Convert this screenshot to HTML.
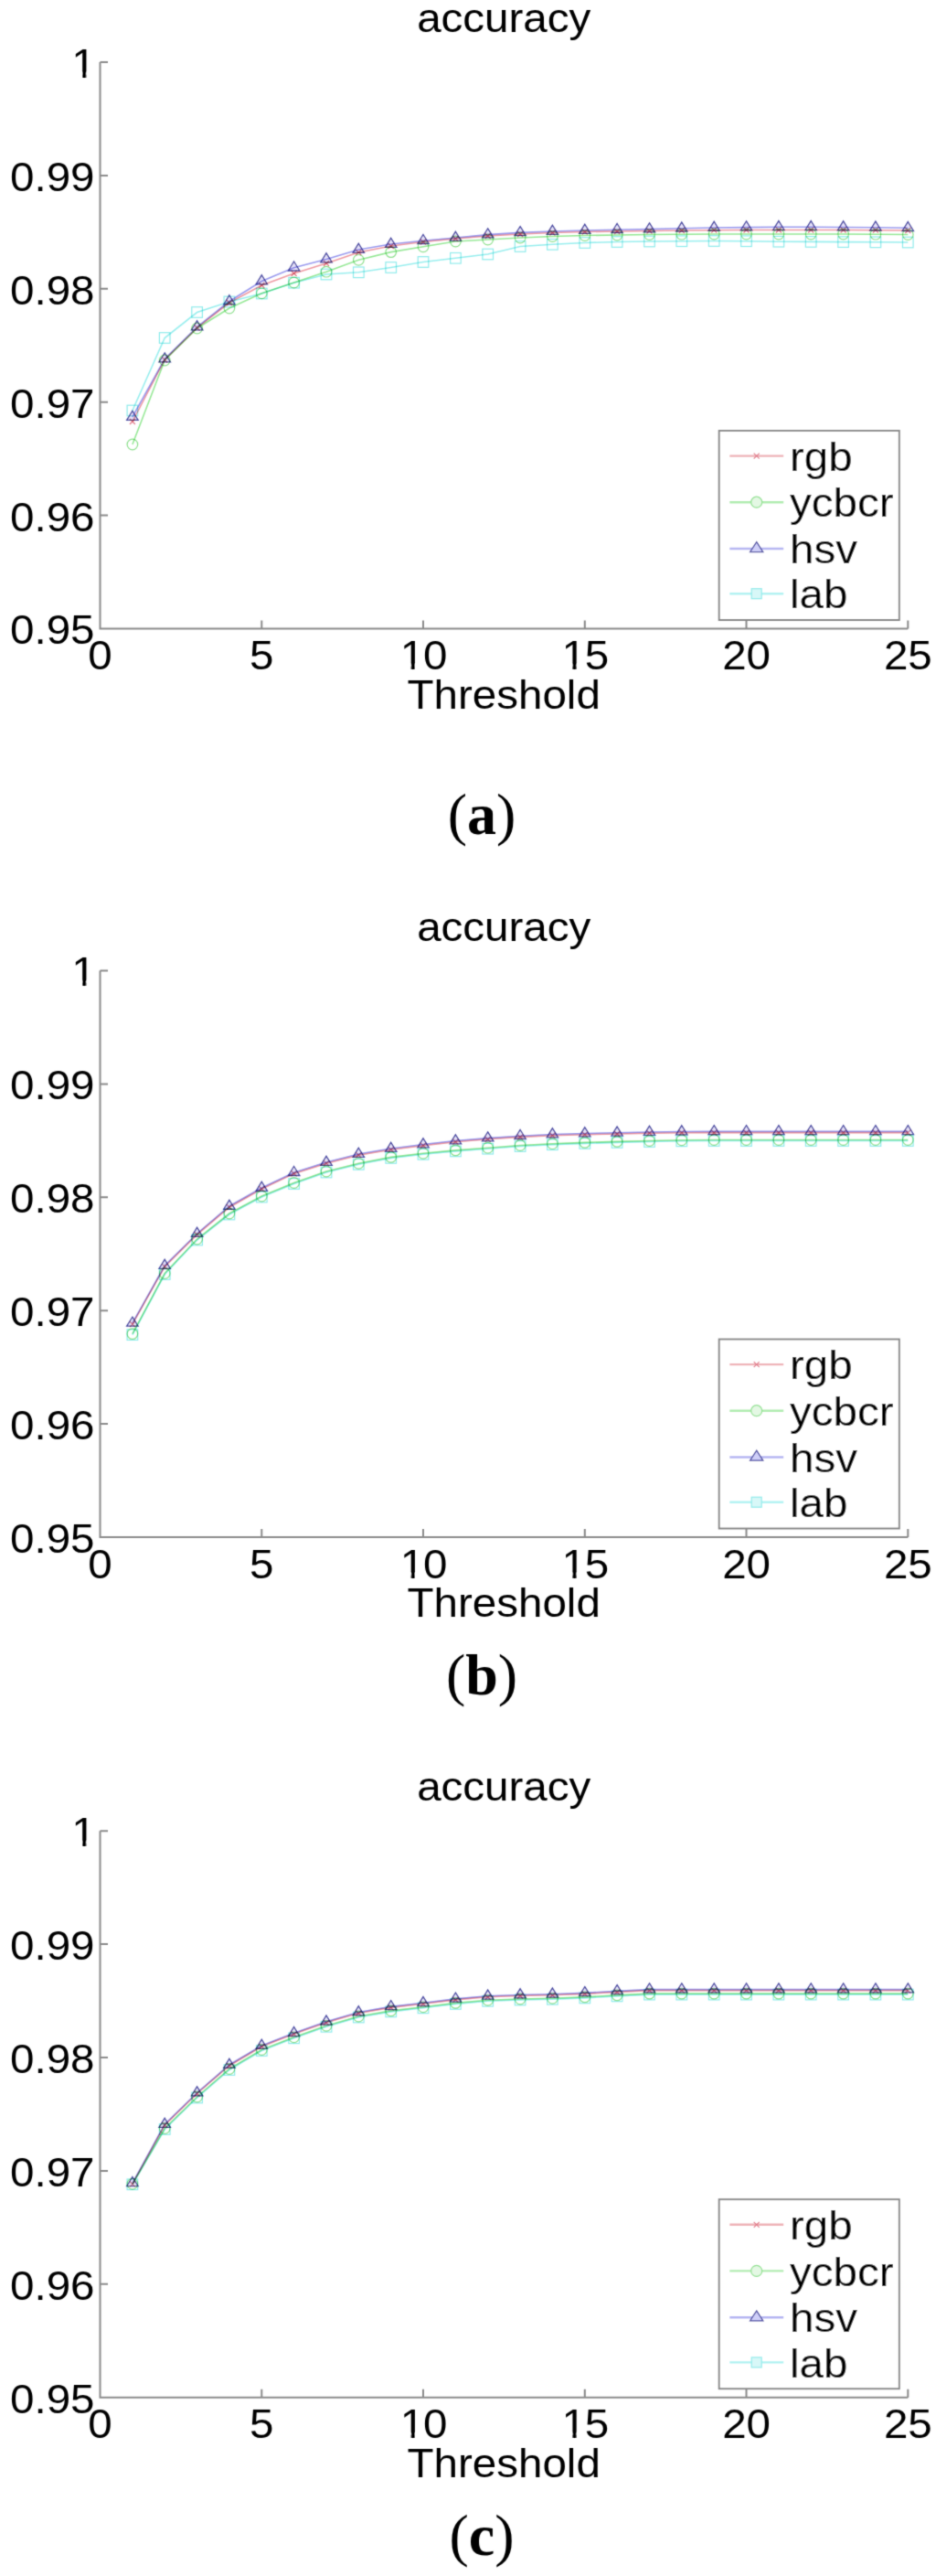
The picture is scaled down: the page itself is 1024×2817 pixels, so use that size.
<!DOCTYPE html>
<html><head><meta charset="utf-8"><title>accuracy</title>
<style>html,body{margin:0;padding:0;background:#fff;}body{width:1024px;height:2817px;overflow:hidden;}svg{display:block;}</style>
</head><body>
<svg width="1024" height="2817" viewBox="0 0 1024 2817">
<defs><filter id="soft" x="0" y="0" width="1024" height="2817" filterUnits="userSpaceOnUse"><feConvolveMatrix order="3" kernelMatrix="0.0367 0.191 0.0367 0.191 1 0.191 0.0367 0.191 0.0367" divisor="1.911" edgeMode="none"/></filter></defs>
<rect width="1024" height="2817" fill="#fff"/>
<g filter="url(#soft)">
<text transform="translate(551.20 35.10) scale(1.08 1)" text-anchor="middle" font-family="'Liberation Sans', Arial, Helvetica, sans-serif" font-size="44" font-weight="normal" fill="#000">accuracy</text>
<path d="M109.5 68.0V687.5H993.3" stroke="#8a8a8a" stroke-width="2" fill="none"/>
<g transform="translate(103.50 84.90) scale(1.08 1)"><text x="-24.47" y="0" font-family="'Liberation Sans', Arial, Helvetica, sans-serif" font-size="44" fill="#000"><tspan dx="1.02">1</tspan></text><rect x="-20.87" y="-5.59" width="8.42" height="6.45" fill="#fff"/><rect x="-8.43" y="-5.59" width="7.97" height="6.45" fill="#fff"/></g>
<g transform="translate(103.50 208.80) scale(1.08 1)"><text x="-85.64" y="0" font-family="'Liberation Sans', Arial, Helvetica, sans-serif" font-size="44" fill="#000">0.99</text></g>
<g transform="translate(103.50 332.70) scale(1.08 1)"><text x="-85.64" y="0" font-family="'Liberation Sans', Arial, Helvetica, sans-serif" font-size="44" fill="#000">0.98</text></g>
<g transform="translate(103.50 456.60) scale(1.08 1)"><text x="-85.64" y="0" font-family="'Liberation Sans', Arial, Helvetica, sans-serif" font-size="44" fill="#000">0.97</text></g>
<g transform="translate(103.50 580.50) scale(1.08 1)"><text x="-85.64" y="0" font-family="'Liberation Sans', Arial, Helvetica, sans-serif" font-size="44" fill="#000">0.96</text></g>
<g transform="translate(103.50 704.40) scale(1.08 1)"><text x="-85.64" y="0" font-family="'Liberation Sans', Arial, Helvetica, sans-serif" font-size="44" fill="#000">0.95</text></g>
<g transform="translate(109.50 732.10) scale(1.08 1)"><text x="-12.24" y="0" font-family="'Liberation Sans', Arial, Helvetica, sans-serif" font-size="44" fill="#000">0</text></g>
<g transform="translate(286.26 732.10) scale(1.08 1)"><text x="-12.24" y="0" font-family="'Liberation Sans', Arial, Helvetica, sans-serif" font-size="44" fill="#000">5</text></g>
<g transform="translate(463.02 732.10) scale(1.08 1)"><text x="-24.47" y="0" font-family="'Liberation Sans', Arial, Helvetica, sans-serif" font-size="44" fill="#000"><tspan dx="1.02">1</tspan><tspan dx="-1.02">0</tspan></text><rect x="-20.87" y="-5.59" width="8.42" height="6.45" fill="#fff"/><rect x="-8.43" y="-5.59" width="7.97" height="6.45" fill="#fff"/></g>
<g transform="translate(639.78 732.10) scale(1.08 1)"><text x="-24.47" y="0" font-family="'Liberation Sans', Arial, Helvetica, sans-serif" font-size="44" fill="#000"><tspan dx="1.02">1</tspan><tspan dx="-1.02">5</tspan></text><rect x="-20.87" y="-5.59" width="8.42" height="6.45" fill="#fff"/><rect x="-8.43" y="-5.59" width="7.97" height="6.45" fill="#fff"/></g>
<g transform="translate(816.54 732.10) scale(1.08 1)"><text x="-24.47" y="0" font-family="'Liberation Sans', Arial, Helvetica, sans-serif" font-size="44" fill="#000">20</text></g>
<g transform="translate(993.30 732.10) scale(1.08 1)"><text x="-24.47" y="0" font-family="'Liberation Sans', Arial, Helvetica, sans-serif" font-size="44" fill="#000">25</text></g>
<path d="M109.5 68.0h8.5M109.5 191.9h8.5M109.5 315.8h8.5M109.5 439.7h8.5M109.5 563.6h8.5M286.3 687.5v-9M463.0 687.5v-9M639.8 687.5v-9M816.5 687.5v-9M993.3 687.5v-9" stroke="#8a8a8a" stroke-width="2" fill="none"/>
<text transform="translate(551.20 774.90) scale(1.08 1)" text-anchor="middle" font-family="'Liberation Sans', Arial, Helvetica, sans-serif" font-size="44" font-weight="normal" fill="#000">Threshold</text>
<polyline points="144.9,461.0 180.2,393.5 215.6,358.5 250.9,331.0 286.3,312.0 321.6,299.0 357.0,288.0 392.3,276.0 427.7,269.0 463.0,264.5 498.4,261.0 533.7,258.0 569.1,256.0 604.4,254.5 639.8,253.5 675.1,253.0 710.5,252.5 745.8,252.0 781.2,251.7 816.5,251.5 851.9,251.5 887.2,251.5 922.6,251.5 957.9,251.7 993.3,252.0" stroke="#ee9aa2" stroke-width="1.6" fill="none" style="mix-blend-mode:multiply"/>
<polyline points="144.9,486.0 180.2,394.0 215.6,359.0 250.9,337.0 286.3,320.8 321.6,309.0 357.0,297.2 392.3,284.3 427.7,275.6 463.0,269.8 498.4,264.0 533.7,262.0 569.1,260.0 604.4,258.5 639.8,257.5 675.1,257.0 710.5,256.5 745.8,256.2 781.2,256.0 816.5,256.0 851.9,256.0 887.2,256.0 922.6,256.0 957.9,256.2 993.3,256.5" stroke="#96e896" stroke-width="1.6" fill="none" style="mix-blend-mode:multiply"/>
<polyline points="144.9,456.0 180.2,392.6 215.6,357.5 250.9,329.5 286.3,307.5 321.6,292.7 357.0,283.5 392.3,273.0 427.7,267.0 463.0,263.2 498.4,260.0 533.7,256.6 569.1,254.4 604.4,253.0 639.8,252.0 675.1,251.2 710.5,250.6 745.8,249.8 781.2,249.0 816.5,248.6 851.9,248.3 887.2,248.3 922.6,248.5 957.9,248.8 993.3,249.3" stroke="#9a9aee" stroke-width="1.6" fill="none" style="mix-blend-mode:multiply"/>
<polyline points="144.9,449.0 180.2,369.5 215.6,341.5 250.9,330.0 286.3,321.0 321.6,309.2 357.0,300.0 392.3,297.8 427.7,292.5 463.0,286.5 498.4,282.3 533.7,278.0 569.1,269.5 604.4,267.3 639.8,265.5 675.1,264.5 710.5,264.0 745.8,263.7 781.2,263.5 816.5,263.7 851.9,264.2 887.2,264.4 922.6,264.6 957.9,264.8 993.3,265.0" stroke="#98eeee" stroke-width="1.6" fill="none" style="mix-blend-mode:multiply"/>
<path d="M141.9 458.0L147.9 464.0M141.9 464.0L147.9 458.0" stroke="#e07888" stroke-width="1.2" fill="none" style="mix-blend-mode:multiply"/>
<path d="M177.2 390.5L183.2 396.5M177.2 396.5L183.2 390.5" stroke="#e07888" stroke-width="1.2" fill="none" style="mix-blend-mode:multiply"/>
<path d="M212.6 355.5L218.6 361.5M212.6 361.5L218.6 355.5" stroke="#e07888" stroke-width="1.2" fill="none" style="mix-blend-mode:multiply"/>
<path d="M247.9 328.0L253.9 334.0M247.9 334.0L253.9 328.0" stroke="#e07888" stroke-width="1.2" fill="none" style="mix-blend-mode:multiply"/>
<path d="M283.3 309.0L289.3 315.0M283.3 315.0L289.3 309.0" stroke="#e07888" stroke-width="1.2" fill="none" style="mix-blend-mode:multiply"/>
<path d="M318.6 296.0L324.6 302.0M318.6 302.0L324.6 296.0" stroke="#e07888" stroke-width="1.2" fill="none" style="mix-blend-mode:multiply"/>
<path d="M354.0 285.0L360.0 291.0M354.0 291.0L360.0 285.0" stroke="#e07888" stroke-width="1.2" fill="none" style="mix-blend-mode:multiply"/>
<path d="M389.3 273.0L395.3 279.0M389.3 279.0L395.3 273.0" stroke="#e07888" stroke-width="1.2" fill="none" style="mix-blend-mode:multiply"/>
<path d="M424.7 266.0L430.7 272.0M424.7 272.0L430.7 266.0" stroke="#e07888" stroke-width="1.2" fill="none" style="mix-blend-mode:multiply"/>
<path d="M460.0 261.5L466.0 267.5M460.0 267.5L466.0 261.5" stroke="#e07888" stroke-width="1.2" fill="none" style="mix-blend-mode:multiply"/>
<path d="M495.4 258.0L501.4 264.0M495.4 264.0L501.4 258.0" stroke="#e07888" stroke-width="1.2" fill="none" style="mix-blend-mode:multiply"/>
<path d="M530.7 255.0L536.7 261.0M530.7 261.0L536.7 255.0" stroke="#e07888" stroke-width="1.2" fill="none" style="mix-blend-mode:multiply"/>
<path d="M566.1 253.0L572.1 259.0M566.1 259.0L572.1 253.0" stroke="#e07888" stroke-width="1.2" fill="none" style="mix-blend-mode:multiply"/>
<path d="M601.4 251.5L607.4 257.5M601.4 257.5L607.4 251.5" stroke="#e07888" stroke-width="1.2" fill="none" style="mix-blend-mode:multiply"/>
<path d="M636.8 250.5L642.8 256.5M636.8 256.5L642.8 250.5" stroke="#e07888" stroke-width="1.2" fill="none" style="mix-blend-mode:multiply"/>
<path d="M672.1 250.0L678.1 256.0M672.1 256.0L678.1 250.0" stroke="#e07888" stroke-width="1.2" fill="none" style="mix-blend-mode:multiply"/>
<path d="M707.5 249.5L713.5 255.5M707.5 255.5L713.5 249.5" stroke="#e07888" stroke-width="1.2" fill="none" style="mix-blend-mode:multiply"/>
<path d="M742.8 249.0L748.8 255.0M742.8 255.0L748.8 249.0" stroke="#e07888" stroke-width="1.2" fill="none" style="mix-blend-mode:multiply"/>
<path d="M778.2 248.7L784.2 254.7M778.2 254.7L784.2 248.7" stroke="#e07888" stroke-width="1.2" fill="none" style="mix-blend-mode:multiply"/>
<path d="M813.5 248.5L819.5 254.5M813.5 254.5L819.5 248.5" stroke="#e07888" stroke-width="1.2" fill="none" style="mix-blend-mode:multiply"/>
<path d="M848.9 248.5L854.9 254.5M848.9 254.5L854.9 248.5" stroke="#e07888" stroke-width="1.2" fill="none" style="mix-blend-mode:multiply"/>
<path d="M884.2 248.5L890.2 254.5M884.2 254.5L890.2 248.5" stroke="#e07888" stroke-width="1.2" fill="none" style="mix-blend-mode:multiply"/>
<path d="M919.6 248.5L925.6 254.5M919.6 254.5L925.6 248.5" stroke="#e07888" stroke-width="1.2" fill="none" style="mix-blend-mode:multiply"/>
<path d="M954.9 248.7L960.9 254.7M954.9 254.7L960.9 248.7" stroke="#e07888" stroke-width="1.2" fill="none" style="mix-blend-mode:multiply"/>
<path d="M990.3 249.0L996.3 255.0M990.3 255.0L996.3 249.0" stroke="#e07888" stroke-width="1.2" fill="none" style="mix-blend-mode:multiply"/>
<circle cx="144.9" cy="486.0" r="5.8" stroke="#8ee08e" stroke-width="1.2" fill="none" style="mix-blend-mode:multiply"/>
<circle cx="180.2" cy="394.0" r="5.8" stroke="#8ee08e" stroke-width="1.2" fill="none" style="mix-blend-mode:multiply"/>
<circle cx="215.6" cy="359.0" r="5.8" stroke="#8ee08e" stroke-width="1.2" fill="none" style="mix-blend-mode:multiply"/>
<circle cx="250.9" cy="337.0" r="5.8" stroke="#8ee08e" stroke-width="1.2" fill="none" style="mix-blend-mode:multiply"/>
<circle cx="286.3" cy="320.8" r="5.8" stroke="#8ee08e" stroke-width="1.2" fill="none" style="mix-blend-mode:multiply"/>
<circle cx="321.6" cy="309.0" r="5.8" stroke="#8ee08e" stroke-width="1.2" fill="none" style="mix-blend-mode:multiply"/>
<circle cx="357.0" cy="297.2" r="5.8" stroke="#8ee08e" stroke-width="1.2" fill="none" style="mix-blend-mode:multiply"/>
<circle cx="392.3" cy="284.3" r="5.8" stroke="#8ee08e" stroke-width="1.2" fill="none" style="mix-blend-mode:multiply"/>
<circle cx="427.7" cy="275.6" r="5.8" stroke="#8ee08e" stroke-width="1.2" fill="none" style="mix-blend-mode:multiply"/>
<circle cx="463.0" cy="269.8" r="5.8" stroke="#8ee08e" stroke-width="1.2" fill="none" style="mix-blend-mode:multiply"/>
<circle cx="498.4" cy="264.0" r="5.8" stroke="#8ee08e" stroke-width="1.2" fill="none" style="mix-blend-mode:multiply"/>
<circle cx="533.7" cy="262.0" r="5.8" stroke="#8ee08e" stroke-width="1.2" fill="none" style="mix-blend-mode:multiply"/>
<circle cx="569.1" cy="260.0" r="5.8" stroke="#8ee08e" stroke-width="1.2" fill="none" style="mix-blend-mode:multiply"/>
<circle cx="604.4" cy="258.5" r="5.8" stroke="#8ee08e" stroke-width="1.2" fill="none" style="mix-blend-mode:multiply"/>
<circle cx="639.8" cy="257.5" r="5.8" stroke="#8ee08e" stroke-width="1.2" fill="none" style="mix-blend-mode:multiply"/>
<circle cx="675.1" cy="257.0" r="5.8" stroke="#8ee08e" stroke-width="1.2" fill="none" style="mix-blend-mode:multiply"/>
<circle cx="710.5" cy="256.5" r="5.8" stroke="#8ee08e" stroke-width="1.2" fill="none" style="mix-blend-mode:multiply"/>
<circle cx="745.8" cy="256.2" r="5.8" stroke="#8ee08e" stroke-width="1.2" fill="none" style="mix-blend-mode:multiply"/>
<circle cx="781.2" cy="256.0" r="5.8" stroke="#8ee08e" stroke-width="1.2" fill="none" style="mix-blend-mode:multiply"/>
<circle cx="816.5" cy="256.0" r="5.8" stroke="#8ee08e" stroke-width="1.2" fill="none" style="mix-blend-mode:multiply"/>
<circle cx="851.9" cy="256.0" r="5.8" stroke="#8ee08e" stroke-width="1.2" fill="none" style="mix-blend-mode:multiply"/>
<circle cx="887.2" cy="256.0" r="5.8" stroke="#8ee08e" stroke-width="1.2" fill="none" style="mix-blend-mode:multiply"/>
<circle cx="922.6" cy="256.0" r="5.8" stroke="#8ee08e" stroke-width="1.2" fill="none" style="mix-blend-mode:multiply"/>
<circle cx="957.9" cy="256.2" r="5.8" stroke="#8ee08e" stroke-width="1.2" fill="none" style="mix-blend-mode:multiply"/>
<circle cx="993.3" cy="256.5" r="5.8" stroke="#8ee08e" stroke-width="1.2" fill="none" style="mix-blend-mode:multiply"/>
<path d="M144.9 449.3L151.1 459.3L138.7 459.3Z" stroke="#4848a0" stroke-width="1.3" fill="#e6e2f8" style="mix-blend-mode:multiply"/>
<path d="M180.2 385.9L186.4 395.9L174.0 395.9Z" stroke="#4848a0" stroke-width="1.3" fill="#e6e2f8" style="mix-blend-mode:multiply"/>
<path d="M215.6 350.8L221.8 360.8L209.4 360.8Z" stroke="#4848a0" stroke-width="1.3" fill="#e6e2f8" style="mix-blend-mode:multiply"/>
<path d="M250.9 322.8L257.1 332.8L244.7 332.8Z" stroke="#4848a0" stroke-width="1.3" fill="#e6e2f8" style="mix-blend-mode:multiply"/>
<path d="M286.3 300.8L292.5 310.8L280.1 310.8Z" stroke="#4848a0" stroke-width="1.3" fill="#e6e2f8" style="mix-blend-mode:multiply"/>
<path d="M321.6 286.0L327.8 296.0L315.4 296.0Z" stroke="#4848a0" stroke-width="1.3" fill="#e6e2f8" style="mix-blend-mode:multiply"/>
<path d="M357.0 276.8L363.2 286.8L350.8 286.8Z" stroke="#4848a0" stroke-width="1.3" fill="#e6e2f8" style="mix-blend-mode:multiply"/>
<path d="M392.3 266.3L398.5 276.3L386.1 276.3Z" stroke="#4848a0" stroke-width="1.3" fill="#e6e2f8" style="mix-blend-mode:multiply"/>
<path d="M427.7 260.3L433.9 270.3L421.5 270.3Z" stroke="#4848a0" stroke-width="1.3" fill="#e6e2f8" style="mix-blend-mode:multiply"/>
<path d="M463.0 256.5L469.2 266.5L456.8 266.5Z" stroke="#4848a0" stroke-width="1.3" fill="#e6e2f8" style="mix-blend-mode:multiply"/>
<path d="M498.4 253.3L504.6 263.3L492.2 263.3Z" stroke="#4848a0" stroke-width="1.3" fill="#e6e2f8" style="mix-blend-mode:multiply"/>
<path d="M533.7 249.9L539.9 259.9L527.5 259.9Z" stroke="#4848a0" stroke-width="1.3" fill="#e6e2f8" style="mix-blend-mode:multiply"/>
<path d="M569.1 247.7L575.3 257.7L562.9 257.7Z" stroke="#4848a0" stroke-width="1.3" fill="#e6e2f8" style="mix-blend-mode:multiply"/>
<path d="M604.4 246.3L610.6 256.3L598.2 256.3Z" stroke="#4848a0" stroke-width="1.3" fill="#e6e2f8" style="mix-blend-mode:multiply"/>
<path d="M639.8 245.3L646.0 255.3L633.6 255.3Z" stroke="#4848a0" stroke-width="1.3" fill="#e6e2f8" style="mix-blend-mode:multiply"/>
<path d="M675.1 244.5L681.3 254.5L668.9 254.5Z" stroke="#4848a0" stroke-width="1.3" fill="#e6e2f8" style="mix-blend-mode:multiply"/>
<path d="M710.5 243.9L716.7 253.9L704.3 253.9Z" stroke="#4848a0" stroke-width="1.3" fill="#e6e2f8" style="mix-blend-mode:multiply"/>
<path d="M745.8 243.1L752.0 253.1L739.6 253.1Z" stroke="#4848a0" stroke-width="1.3" fill="#e6e2f8" style="mix-blend-mode:multiply"/>
<path d="M781.2 242.3L787.4 252.3L775.0 252.3Z" stroke="#4848a0" stroke-width="1.3" fill="#e6e2f8" style="mix-blend-mode:multiply"/>
<path d="M816.5 241.9L822.7 251.9L810.3 251.9Z" stroke="#4848a0" stroke-width="1.3" fill="#e6e2f8" style="mix-blend-mode:multiply"/>
<path d="M851.9 241.6L858.1 251.6L845.7 251.6Z" stroke="#4848a0" stroke-width="1.3" fill="#e6e2f8" style="mix-blend-mode:multiply"/>
<path d="M887.2 241.6L893.4 251.6L881.0 251.6Z" stroke="#4848a0" stroke-width="1.3" fill="#e6e2f8" style="mix-blend-mode:multiply"/>
<path d="M922.6 241.8L928.8 251.8L916.4 251.8Z" stroke="#4848a0" stroke-width="1.3" fill="#e6e2f8" style="mix-blend-mode:multiply"/>
<path d="M957.9 242.1L964.1 252.1L951.7 252.1Z" stroke="#4848a0" stroke-width="1.3" fill="#e6e2f8" style="mix-blend-mode:multiply"/>
<path d="M993.3 242.6L999.5 252.6L987.1 252.6Z" stroke="#4848a0" stroke-width="1.3" fill="#e6e2f8" style="mix-blend-mode:multiply"/>
<rect x="139.1" y="443.2" width="11.6" height="11.6" stroke="#90ecec" stroke-width="1.2" fill="none" style="mix-blend-mode:multiply"/>
<rect x="174.4" y="363.7" width="11.6" height="11.6" stroke="#90ecec" stroke-width="1.2" fill="none" style="mix-blend-mode:multiply"/>
<rect x="209.8" y="335.7" width="11.6" height="11.6" stroke="#90ecec" stroke-width="1.2" fill="none" style="mix-blend-mode:multiply"/>
<rect x="245.1" y="324.2" width="11.6" height="11.6" stroke="#90ecec" stroke-width="1.2" fill="none" style="mix-blend-mode:multiply"/>
<rect x="280.5" y="315.2" width="11.6" height="11.6" stroke="#90ecec" stroke-width="1.2" fill="none" style="mix-blend-mode:multiply"/>
<rect x="315.8" y="303.4" width="11.6" height="11.6" stroke="#90ecec" stroke-width="1.2" fill="none" style="mix-blend-mode:multiply"/>
<rect x="351.2" y="294.2" width="11.6" height="11.6" stroke="#90ecec" stroke-width="1.2" fill="none" style="mix-blend-mode:multiply"/>
<rect x="386.5" y="292.0" width="11.6" height="11.6" stroke="#90ecec" stroke-width="1.2" fill="none" style="mix-blend-mode:multiply"/>
<rect x="421.9" y="286.7" width="11.6" height="11.6" stroke="#90ecec" stroke-width="1.2" fill="none" style="mix-blend-mode:multiply"/>
<rect x="457.2" y="280.7" width="11.6" height="11.6" stroke="#90ecec" stroke-width="1.2" fill="none" style="mix-blend-mode:multiply"/>
<rect x="492.6" y="276.5" width="11.6" height="11.6" stroke="#90ecec" stroke-width="1.2" fill="none" style="mix-blend-mode:multiply"/>
<rect x="527.9" y="272.2" width="11.6" height="11.6" stroke="#90ecec" stroke-width="1.2" fill="none" style="mix-blend-mode:multiply"/>
<rect x="563.3" y="263.7" width="11.6" height="11.6" stroke="#90ecec" stroke-width="1.2" fill="none" style="mix-blend-mode:multiply"/>
<rect x="598.6" y="261.5" width="11.6" height="11.6" stroke="#90ecec" stroke-width="1.2" fill="none" style="mix-blend-mode:multiply"/>
<rect x="634.0" y="259.7" width="11.6" height="11.6" stroke="#90ecec" stroke-width="1.2" fill="none" style="mix-blend-mode:multiply"/>
<rect x="669.3" y="258.7" width="11.6" height="11.6" stroke="#90ecec" stroke-width="1.2" fill="none" style="mix-blend-mode:multiply"/>
<rect x="704.7" y="258.2" width="11.6" height="11.6" stroke="#90ecec" stroke-width="1.2" fill="none" style="mix-blend-mode:multiply"/>
<rect x="740.0" y="257.9" width="11.6" height="11.6" stroke="#90ecec" stroke-width="1.2" fill="none" style="mix-blend-mode:multiply"/>
<rect x="775.4" y="257.7" width="11.6" height="11.6" stroke="#90ecec" stroke-width="1.2" fill="none" style="mix-blend-mode:multiply"/>
<rect x="810.7" y="257.9" width="11.6" height="11.6" stroke="#90ecec" stroke-width="1.2" fill="none" style="mix-blend-mode:multiply"/>
<rect x="846.1" y="258.4" width="11.6" height="11.6" stroke="#90ecec" stroke-width="1.2" fill="none" style="mix-blend-mode:multiply"/>
<rect x="881.4" y="258.6" width="11.6" height="11.6" stroke="#90ecec" stroke-width="1.2" fill="none" style="mix-blend-mode:multiply"/>
<rect x="916.8" y="258.8" width="11.6" height="11.6" stroke="#90ecec" stroke-width="1.2" fill="none" style="mix-blend-mode:multiply"/>
<rect x="952.1" y="259.0" width="11.6" height="11.6" stroke="#90ecec" stroke-width="1.2" fill="none" style="mix-blend-mode:multiply"/>
<rect x="987.5" y="259.2" width="11.6" height="11.6" stroke="#90ecec" stroke-width="1.2" fill="none" style="mix-blend-mode:multiply"/>
<rect x="786.7" y="471.0" width="197.1" height="207.0" fill="#fff" stroke="#868686" stroke-width="1.9"/>
<path d="M798.3 498.6H857.2" stroke="#eeb0b6" stroke-width="2.4"/>
<path d="M824.7 495.6L830.7 501.6M824.7 501.6L830.7 495.6" stroke="#e07888" stroke-width="1.2" fill="none"/>
<text transform="translate(864.00 514.80) scale(1.08 1)" text-anchor="start" font-family="'Liberation Sans', Arial, Helvetica, sans-serif" font-size="44" font-weight="normal" fill="#000">rgb</text>
<path d="M798.3 549.2H857.2" stroke="#b0ecb0" stroke-width="2.4"/>
<circle cx="827.7" cy="549.2" r="6.0" stroke="#8ee08e" stroke-width="1.2" fill="#e4f8e4"/>
<text transform="translate(864.00 565.40) scale(1.08 1)" text-anchor="start" font-family="'Liberation Sans', Arial, Helvetica, sans-serif" font-size="44" font-weight="normal" fill="#000">ycbcr</text>
<path d="M798.3 600.0H857.2" stroke="#b4b4f2" stroke-width="2.4"/>
<path d="M827.7 592.7L834.8 603.7L820.6 603.7Z" stroke="#4848a0" stroke-width="1.3" fill="#cfcff8"/>
<text transform="translate(864.00 616.20) scale(1.08 1)" text-anchor="start" font-family="'Liberation Sans', Arial, Helvetica, sans-serif" font-size="44" font-weight="normal" fill="#000">hsv</text>
<path d="M798.3 649.2H857.2" stroke="#b0f2f2" stroke-width="2.4"/>
<rect x="822.2" y="643.7" width="11.0" height="11.0" stroke="#90ecec" stroke-width="1.2" fill="#d8f8f8"/>
<text transform="translate(864.00 665.40) scale(1.08 1)" text-anchor="start" font-family="'Liberation Sans', Arial, Helvetica, sans-serif" font-size="44" font-weight="normal" fill="#000">lab</text>
<text transform="translate(551.20 1028.60) scale(1.08 1)" text-anchor="middle" font-family="'Liberation Sans', Arial, Helvetica, sans-serif" font-size="44" font-weight="normal" fill="#000">accuracy</text>
<path d="M109.5 1061.5V1681.0H993.3" stroke="#8a8a8a" stroke-width="2" fill="none"/>
<g transform="translate(103.50 1078.40) scale(1.08 1)"><text x="-24.47" y="0" font-family="'Liberation Sans', Arial, Helvetica, sans-serif" font-size="44" fill="#000"><tspan dx="1.02">1</tspan></text><rect x="-20.87" y="-5.59" width="8.42" height="6.45" fill="#fff"/><rect x="-8.43" y="-5.59" width="7.97" height="6.45" fill="#fff"/></g>
<g transform="translate(103.50 1202.30) scale(1.08 1)"><text x="-85.64" y="0" font-family="'Liberation Sans', Arial, Helvetica, sans-serif" font-size="44" fill="#000">0.99</text></g>
<g transform="translate(103.50 1326.20) scale(1.08 1)"><text x="-85.64" y="0" font-family="'Liberation Sans', Arial, Helvetica, sans-serif" font-size="44" fill="#000">0.98</text></g>
<g transform="translate(103.50 1450.10) scale(1.08 1)"><text x="-85.64" y="0" font-family="'Liberation Sans', Arial, Helvetica, sans-serif" font-size="44" fill="#000">0.97</text></g>
<g transform="translate(103.50 1574.00) scale(1.08 1)"><text x="-85.64" y="0" font-family="'Liberation Sans', Arial, Helvetica, sans-serif" font-size="44" fill="#000">0.96</text></g>
<g transform="translate(103.50 1697.90) scale(1.08 1)"><text x="-85.64" y="0" font-family="'Liberation Sans', Arial, Helvetica, sans-serif" font-size="44" fill="#000">0.95</text></g>
<g transform="translate(109.50 1725.60) scale(1.08 1)"><text x="-12.24" y="0" font-family="'Liberation Sans', Arial, Helvetica, sans-serif" font-size="44" fill="#000">0</text></g>
<g transform="translate(286.26 1725.60) scale(1.08 1)"><text x="-12.24" y="0" font-family="'Liberation Sans', Arial, Helvetica, sans-serif" font-size="44" fill="#000">5</text></g>
<g transform="translate(463.02 1725.60) scale(1.08 1)"><text x="-24.47" y="0" font-family="'Liberation Sans', Arial, Helvetica, sans-serif" font-size="44" fill="#000"><tspan dx="1.02">1</tspan><tspan dx="-1.02">0</tspan></text><rect x="-20.87" y="-5.59" width="8.42" height="6.45" fill="#fff"/><rect x="-8.43" y="-5.59" width="7.97" height="6.45" fill="#fff"/></g>
<g transform="translate(639.78 1725.60) scale(1.08 1)"><text x="-24.47" y="0" font-family="'Liberation Sans', Arial, Helvetica, sans-serif" font-size="44" fill="#000"><tspan dx="1.02">1</tspan><tspan dx="-1.02">5</tspan></text><rect x="-20.87" y="-5.59" width="8.42" height="6.45" fill="#fff"/><rect x="-8.43" y="-5.59" width="7.97" height="6.45" fill="#fff"/></g>
<g transform="translate(816.54 1725.60) scale(1.08 1)"><text x="-24.47" y="0" font-family="'Liberation Sans', Arial, Helvetica, sans-serif" font-size="44" fill="#000">20</text></g>
<g transform="translate(993.30 1725.60) scale(1.08 1)"><text x="-24.47" y="0" font-family="'Liberation Sans', Arial, Helvetica, sans-serif" font-size="44" fill="#000">25</text></g>
<path d="M109.5 1061.5h8.5M109.5 1185.4h8.5M109.5 1309.3h8.5M109.5 1433.2h8.5M109.5 1557.1h8.5M286.3 1681.0v-9M463.0 1681.0v-9M639.8 1681.0v-9M816.5 1681.0v-9M993.3 1681.0v-9" stroke="#8a8a8a" stroke-width="2" fill="none"/>
<text transform="translate(551.20 1768.40) scale(1.08 1)" text-anchor="middle" font-family="'Liberation Sans', Arial, Helvetica, sans-serif" font-size="44" font-weight="normal" fill="#000">Threshold</text>
<polyline points="144.9,1448.1 180.2,1385.2 215.6,1350.2 250.9,1320.2 286.3,1300.2 321.6,1283.4 357.0,1272.2 392.3,1263.2 427.7,1257.2 463.0,1252.7 498.4,1248.7 533.7,1245.8 569.1,1243.4 604.4,1241.7 639.8,1240.7 675.1,1240.0 710.5,1239.2 745.8,1238.7 781.2,1238.6 816.5,1238.6 851.9,1238.6 887.2,1238.6 922.6,1238.6 957.9,1238.6 993.3,1238.6" stroke="#ee9aa2" stroke-width="1.6" fill="none" style="mix-blend-mode:multiply"/>
<polyline points="144.9,1458.6 180.2,1392.5 215.6,1355.0 250.9,1327.0 286.3,1308.0 321.6,1293.5 357.0,1281.0 392.3,1272.3 427.7,1265.4 463.0,1261.3 498.4,1257.9 533.7,1255.2 569.1,1252.5 604.4,1250.7 639.8,1249.4 675.1,1248.4 710.5,1247.5 745.8,1246.8 781.2,1246.5 816.5,1246.5 851.9,1246.5 887.2,1246.5 922.6,1246.5 957.9,1246.5 993.3,1246.5" stroke="#96e896" stroke-width="1.6" fill="none" style="mix-blend-mode:multiply"/>
<polyline points="144.9,1446.9 180.2,1384.0 215.6,1349.0 250.9,1319.0 286.3,1299.0 321.6,1282.2 357.0,1271.0 392.3,1262.0 427.7,1256.0 463.0,1251.5 498.4,1247.5 533.7,1244.6 569.1,1242.2 604.4,1240.5 639.8,1239.5 675.1,1238.8 710.5,1238.0 745.8,1237.5 781.2,1237.4 816.5,1237.4 851.9,1237.4 887.2,1237.4 922.6,1237.4 957.9,1237.4 993.3,1237.4" stroke="#9a9aee" stroke-width="1.6" fill="none" style="mix-blend-mode:multiply"/>
<polyline points="144.9,1459.6 180.2,1393.5 215.6,1356.0 250.9,1328.0 286.3,1309.0 321.6,1294.5 357.0,1282.0 392.3,1273.3 427.7,1266.4 463.0,1262.3 498.4,1258.9 533.7,1256.2 569.1,1253.5 604.4,1251.7 639.8,1250.4 675.1,1249.4 710.5,1248.5 745.8,1247.8 781.2,1247.5 816.5,1247.5 851.9,1247.5 887.2,1247.5 922.6,1247.5 957.9,1247.5 993.3,1247.5" stroke="#98eeee" stroke-width="1.6" fill="none" style="mix-blend-mode:multiply"/>
<path d="M141.9 1445.1L147.9 1451.1M141.9 1451.1L147.9 1445.1" stroke="#e07888" stroke-width="1.2" fill="none" style="mix-blend-mode:multiply"/>
<path d="M177.2 1382.2L183.2 1388.2M177.2 1388.2L183.2 1382.2" stroke="#e07888" stroke-width="1.2" fill="none" style="mix-blend-mode:multiply"/>
<path d="M212.6 1347.2L218.6 1353.2M212.6 1353.2L218.6 1347.2" stroke="#e07888" stroke-width="1.2" fill="none" style="mix-blend-mode:multiply"/>
<path d="M247.9 1317.2L253.9 1323.2M247.9 1323.2L253.9 1317.2" stroke="#e07888" stroke-width="1.2" fill="none" style="mix-blend-mode:multiply"/>
<path d="M283.3 1297.2L289.3 1303.2M283.3 1303.2L289.3 1297.2" stroke="#e07888" stroke-width="1.2" fill="none" style="mix-blend-mode:multiply"/>
<path d="M318.6 1280.4L324.6 1286.4M318.6 1286.4L324.6 1280.4" stroke="#e07888" stroke-width="1.2" fill="none" style="mix-blend-mode:multiply"/>
<path d="M354.0 1269.2L360.0 1275.2M354.0 1275.2L360.0 1269.2" stroke="#e07888" stroke-width="1.2" fill="none" style="mix-blend-mode:multiply"/>
<path d="M389.3 1260.2L395.3 1266.2M389.3 1266.2L395.3 1260.2" stroke="#e07888" stroke-width="1.2" fill="none" style="mix-blend-mode:multiply"/>
<path d="M424.7 1254.2L430.7 1260.2M424.7 1260.2L430.7 1254.2" stroke="#e07888" stroke-width="1.2" fill="none" style="mix-blend-mode:multiply"/>
<path d="M460.0 1249.7L466.0 1255.7M460.0 1255.7L466.0 1249.7" stroke="#e07888" stroke-width="1.2" fill="none" style="mix-blend-mode:multiply"/>
<path d="M495.4 1245.7L501.4 1251.7M495.4 1251.7L501.4 1245.7" stroke="#e07888" stroke-width="1.2" fill="none" style="mix-blend-mode:multiply"/>
<path d="M530.7 1242.8L536.7 1248.8M530.7 1248.8L536.7 1242.8" stroke="#e07888" stroke-width="1.2" fill="none" style="mix-blend-mode:multiply"/>
<path d="M566.1 1240.4L572.1 1246.4M566.1 1246.4L572.1 1240.4" stroke="#e07888" stroke-width="1.2" fill="none" style="mix-blend-mode:multiply"/>
<path d="M601.4 1238.7L607.4 1244.7M601.4 1244.7L607.4 1238.7" stroke="#e07888" stroke-width="1.2" fill="none" style="mix-blend-mode:multiply"/>
<path d="M636.8 1237.7L642.8 1243.7M636.8 1243.7L642.8 1237.7" stroke="#e07888" stroke-width="1.2" fill="none" style="mix-blend-mode:multiply"/>
<path d="M672.1 1237.0L678.1 1243.0M672.1 1243.0L678.1 1237.0" stroke="#e07888" stroke-width="1.2" fill="none" style="mix-blend-mode:multiply"/>
<path d="M707.5 1236.2L713.5 1242.2M707.5 1242.2L713.5 1236.2" stroke="#e07888" stroke-width="1.2" fill="none" style="mix-blend-mode:multiply"/>
<path d="M742.8 1235.7L748.8 1241.7M742.8 1241.7L748.8 1235.7" stroke="#e07888" stroke-width="1.2" fill="none" style="mix-blend-mode:multiply"/>
<path d="M778.2 1235.6L784.2 1241.6M778.2 1241.6L784.2 1235.6" stroke="#e07888" stroke-width="1.2" fill="none" style="mix-blend-mode:multiply"/>
<path d="M813.5 1235.6L819.5 1241.6M813.5 1241.6L819.5 1235.6" stroke="#e07888" stroke-width="1.2" fill="none" style="mix-blend-mode:multiply"/>
<path d="M848.9 1235.6L854.9 1241.6M848.9 1241.6L854.9 1235.6" stroke="#e07888" stroke-width="1.2" fill="none" style="mix-blend-mode:multiply"/>
<path d="M884.2 1235.6L890.2 1241.6M884.2 1241.6L890.2 1235.6" stroke="#e07888" stroke-width="1.2" fill="none" style="mix-blend-mode:multiply"/>
<path d="M919.6 1235.6L925.6 1241.6M919.6 1241.6L925.6 1235.6" stroke="#e07888" stroke-width="1.2" fill="none" style="mix-blend-mode:multiply"/>
<path d="M954.9 1235.6L960.9 1241.6M954.9 1241.6L960.9 1235.6" stroke="#e07888" stroke-width="1.2" fill="none" style="mix-blend-mode:multiply"/>
<path d="M990.3 1235.6L996.3 1241.6M990.3 1241.6L996.3 1235.6" stroke="#e07888" stroke-width="1.2" fill="none" style="mix-blend-mode:multiply"/>
<circle cx="144.9" cy="1458.6" r="5.8" stroke="#8ee08e" stroke-width="1.2" fill="none" style="mix-blend-mode:multiply"/>
<circle cx="180.2" cy="1392.5" r="5.8" stroke="#8ee08e" stroke-width="1.2" fill="none" style="mix-blend-mode:multiply"/>
<circle cx="215.6" cy="1355.0" r="5.8" stroke="#8ee08e" stroke-width="1.2" fill="none" style="mix-blend-mode:multiply"/>
<circle cx="250.9" cy="1327.0" r="5.8" stroke="#8ee08e" stroke-width="1.2" fill="none" style="mix-blend-mode:multiply"/>
<circle cx="286.3" cy="1308.0" r="5.8" stroke="#8ee08e" stroke-width="1.2" fill="none" style="mix-blend-mode:multiply"/>
<circle cx="321.6" cy="1293.5" r="5.8" stroke="#8ee08e" stroke-width="1.2" fill="none" style="mix-blend-mode:multiply"/>
<circle cx="357.0" cy="1281.0" r="5.8" stroke="#8ee08e" stroke-width="1.2" fill="none" style="mix-blend-mode:multiply"/>
<circle cx="392.3" cy="1272.3" r="5.8" stroke="#8ee08e" stroke-width="1.2" fill="none" style="mix-blend-mode:multiply"/>
<circle cx="427.7" cy="1265.4" r="5.8" stroke="#8ee08e" stroke-width="1.2" fill="none" style="mix-blend-mode:multiply"/>
<circle cx="463.0" cy="1261.3" r="5.8" stroke="#8ee08e" stroke-width="1.2" fill="none" style="mix-blend-mode:multiply"/>
<circle cx="498.4" cy="1257.9" r="5.8" stroke="#8ee08e" stroke-width="1.2" fill="none" style="mix-blend-mode:multiply"/>
<circle cx="533.7" cy="1255.2" r="5.8" stroke="#8ee08e" stroke-width="1.2" fill="none" style="mix-blend-mode:multiply"/>
<circle cx="569.1" cy="1252.5" r="5.8" stroke="#8ee08e" stroke-width="1.2" fill="none" style="mix-blend-mode:multiply"/>
<circle cx="604.4" cy="1250.7" r="5.8" stroke="#8ee08e" stroke-width="1.2" fill="none" style="mix-blend-mode:multiply"/>
<circle cx="639.8" cy="1249.4" r="5.8" stroke="#8ee08e" stroke-width="1.2" fill="none" style="mix-blend-mode:multiply"/>
<circle cx="675.1" cy="1248.4" r="5.8" stroke="#8ee08e" stroke-width="1.2" fill="none" style="mix-blend-mode:multiply"/>
<circle cx="710.5" cy="1247.5" r="5.8" stroke="#8ee08e" stroke-width="1.2" fill="none" style="mix-blend-mode:multiply"/>
<circle cx="745.8" cy="1246.8" r="5.8" stroke="#8ee08e" stroke-width="1.2" fill="none" style="mix-blend-mode:multiply"/>
<circle cx="781.2" cy="1246.5" r="5.8" stroke="#8ee08e" stroke-width="1.2" fill="none" style="mix-blend-mode:multiply"/>
<circle cx="816.5" cy="1246.5" r="5.8" stroke="#8ee08e" stroke-width="1.2" fill="none" style="mix-blend-mode:multiply"/>
<circle cx="851.9" cy="1246.5" r="5.8" stroke="#8ee08e" stroke-width="1.2" fill="none" style="mix-blend-mode:multiply"/>
<circle cx="887.2" cy="1246.5" r="5.8" stroke="#8ee08e" stroke-width="1.2" fill="none" style="mix-blend-mode:multiply"/>
<circle cx="922.6" cy="1246.5" r="5.8" stroke="#8ee08e" stroke-width="1.2" fill="none" style="mix-blend-mode:multiply"/>
<circle cx="957.9" cy="1246.5" r="5.8" stroke="#8ee08e" stroke-width="1.2" fill="none" style="mix-blend-mode:multiply"/>
<circle cx="993.3" cy="1246.5" r="5.8" stroke="#8ee08e" stroke-width="1.2" fill="none" style="mix-blend-mode:multiply"/>
<path d="M144.9 1440.2L151.1 1450.2L138.7 1450.2Z" stroke="#4848a0" stroke-width="1.3" fill="#e6e2f8" style="mix-blend-mode:multiply"/>
<path d="M180.2 1377.3L186.4 1387.3L174.0 1387.3Z" stroke="#4848a0" stroke-width="1.3" fill="#e6e2f8" style="mix-blend-mode:multiply"/>
<path d="M215.6 1342.3L221.8 1352.3L209.4 1352.3Z" stroke="#4848a0" stroke-width="1.3" fill="#e6e2f8" style="mix-blend-mode:multiply"/>
<path d="M250.9 1312.3L257.1 1322.3L244.7 1322.3Z" stroke="#4848a0" stroke-width="1.3" fill="#e6e2f8" style="mix-blend-mode:multiply"/>
<path d="M286.3 1292.3L292.5 1302.3L280.1 1302.3Z" stroke="#4848a0" stroke-width="1.3" fill="#e6e2f8" style="mix-blend-mode:multiply"/>
<path d="M321.6 1275.5L327.8 1285.5L315.4 1285.5Z" stroke="#4848a0" stroke-width="1.3" fill="#e6e2f8" style="mix-blend-mode:multiply"/>
<path d="M357.0 1264.3L363.2 1274.3L350.8 1274.3Z" stroke="#4848a0" stroke-width="1.3" fill="#e6e2f8" style="mix-blend-mode:multiply"/>
<path d="M392.3 1255.3L398.5 1265.3L386.1 1265.3Z" stroke="#4848a0" stroke-width="1.3" fill="#e6e2f8" style="mix-blend-mode:multiply"/>
<path d="M427.7 1249.3L433.9 1259.3L421.5 1259.3Z" stroke="#4848a0" stroke-width="1.3" fill="#e6e2f8" style="mix-blend-mode:multiply"/>
<path d="M463.0 1244.8L469.2 1254.8L456.8 1254.8Z" stroke="#4848a0" stroke-width="1.3" fill="#e6e2f8" style="mix-blend-mode:multiply"/>
<path d="M498.4 1240.8L504.6 1250.8L492.2 1250.8Z" stroke="#4848a0" stroke-width="1.3" fill="#e6e2f8" style="mix-blend-mode:multiply"/>
<path d="M533.7 1237.9L539.9 1247.9L527.5 1247.9Z" stroke="#4848a0" stroke-width="1.3" fill="#e6e2f8" style="mix-blend-mode:multiply"/>
<path d="M569.1 1235.5L575.3 1245.5L562.9 1245.5Z" stroke="#4848a0" stroke-width="1.3" fill="#e6e2f8" style="mix-blend-mode:multiply"/>
<path d="M604.4 1233.8L610.6 1243.8L598.2 1243.8Z" stroke="#4848a0" stroke-width="1.3" fill="#e6e2f8" style="mix-blend-mode:multiply"/>
<path d="M639.8 1232.8L646.0 1242.8L633.6 1242.8Z" stroke="#4848a0" stroke-width="1.3" fill="#e6e2f8" style="mix-blend-mode:multiply"/>
<path d="M675.1 1232.1L681.3 1242.1L668.9 1242.1Z" stroke="#4848a0" stroke-width="1.3" fill="#e6e2f8" style="mix-blend-mode:multiply"/>
<path d="M710.5 1231.3L716.7 1241.3L704.3 1241.3Z" stroke="#4848a0" stroke-width="1.3" fill="#e6e2f8" style="mix-blend-mode:multiply"/>
<path d="M745.8 1230.8L752.0 1240.8L739.6 1240.8Z" stroke="#4848a0" stroke-width="1.3" fill="#e6e2f8" style="mix-blend-mode:multiply"/>
<path d="M781.2 1230.7L787.4 1240.7L775.0 1240.7Z" stroke="#4848a0" stroke-width="1.3" fill="#e6e2f8" style="mix-blend-mode:multiply"/>
<path d="M816.5 1230.7L822.7 1240.7L810.3 1240.7Z" stroke="#4848a0" stroke-width="1.3" fill="#e6e2f8" style="mix-blend-mode:multiply"/>
<path d="M851.9 1230.7L858.1 1240.7L845.7 1240.7Z" stroke="#4848a0" stroke-width="1.3" fill="#e6e2f8" style="mix-blend-mode:multiply"/>
<path d="M887.2 1230.7L893.4 1240.7L881.0 1240.7Z" stroke="#4848a0" stroke-width="1.3" fill="#e6e2f8" style="mix-blend-mode:multiply"/>
<path d="M922.6 1230.7L928.8 1240.7L916.4 1240.7Z" stroke="#4848a0" stroke-width="1.3" fill="#e6e2f8" style="mix-blend-mode:multiply"/>
<path d="M957.9 1230.7L964.1 1240.7L951.7 1240.7Z" stroke="#4848a0" stroke-width="1.3" fill="#e6e2f8" style="mix-blend-mode:multiply"/>
<path d="M993.3 1230.7L999.5 1240.7L987.1 1240.7Z" stroke="#4848a0" stroke-width="1.3" fill="#e6e2f8" style="mix-blend-mode:multiply"/>
<rect x="139.1" y="1453.8" width="11.6" height="11.6" stroke="#90ecec" stroke-width="1.2" fill="none" style="mix-blend-mode:multiply"/>
<rect x="174.4" y="1387.7" width="11.6" height="11.6" stroke="#90ecec" stroke-width="1.2" fill="none" style="mix-blend-mode:multiply"/>
<rect x="209.8" y="1350.2" width="11.6" height="11.6" stroke="#90ecec" stroke-width="1.2" fill="none" style="mix-blend-mode:multiply"/>
<rect x="245.1" y="1322.2" width="11.6" height="11.6" stroke="#90ecec" stroke-width="1.2" fill="none" style="mix-blend-mode:multiply"/>
<rect x="280.5" y="1303.2" width="11.6" height="11.6" stroke="#90ecec" stroke-width="1.2" fill="none" style="mix-blend-mode:multiply"/>
<rect x="315.8" y="1288.7" width="11.6" height="11.6" stroke="#90ecec" stroke-width="1.2" fill="none" style="mix-blend-mode:multiply"/>
<rect x="351.2" y="1276.2" width="11.6" height="11.6" stroke="#90ecec" stroke-width="1.2" fill="none" style="mix-blend-mode:multiply"/>
<rect x="386.5" y="1267.5" width="11.6" height="11.6" stroke="#90ecec" stroke-width="1.2" fill="none" style="mix-blend-mode:multiply"/>
<rect x="421.9" y="1260.6" width="11.6" height="11.6" stroke="#90ecec" stroke-width="1.2" fill="none" style="mix-blend-mode:multiply"/>
<rect x="457.2" y="1256.5" width="11.6" height="11.6" stroke="#90ecec" stroke-width="1.2" fill="none" style="mix-blend-mode:multiply"/>
<rect x="492.6" y="1253.1" width="11.6" height="11.6" stroke="#90ecec" stroke-width="1.2" fill="none" style="mix-blend-mode:multiply"/>
<rect x="527.9" y="1250.4" width="11.6" height="11.6" stroke="#90ecec" stroke-width="1.2" fill="none" style="mix-blend-mode:multiply"/>
<rect x="563.3" y="1247.7" width="11.6" height="11.6" stroke="#90ecec" stroke-width="1.2" fill="none" style="mix-blend-mode:multiply"/>
<rect x="598.6" y="1245.9" width="11.6" height="11.6" stroke="#90ecec" stroke-width="1.2" fill="none" style="mix-blend-mode:multiply"/>
<rect x="634.0" y="1244.6" width="11.6" height="11.6" stroke="#90ecec" stroke-width="1.2" fill="none" style="mix-blend-mode:multiply"/>
<rect x="669.3" y="1243.6" width="11.6" height="11.6" stroke="#90ecec" stroke-width="1.2" fill="none" style="mix-blend-mode:multiply"/>
<rect x="704.7" y="1242.7" width="11.6" height="11.6" stroke="#90ecec" stroke-width="1.2" fill="none" style="mix-blend-mode:multiply"/>
<rect x="740.0" y="1242.0" width="11.6" height="11.6" stroke="#90ecec" stroke-width="1.2" fill="none" style="mix-blend-mode:multiply"/>
<rect x="775.4" y="1241.7" width="11.6" height="11.6" stroke="#90ecec" stroke-width="1.2" fill="none" style="mix-blend-mode:multiply"/>
<rect x="810.7" y="1241.7" width="11.6" height="11.6" stroke="#90ecec" stroke-width="1.2" fill="none" style="mix-blend-mode:multiply"/>
<rect x="846.1" y="1241.7" width="11.6" height="11.6" stroke="#90ecec" stroke-width="1.2" fill="none" style="mix-blend-mode:multiply"/>
<rect x="881.4" y="1241.7" width="11.6" height="11.6" stroke="#90ecec" stroke-width="1.2" fill="none" style="mix-blend-mode:multiply"/>
<rect x="916.8" y="1241.7" width="11.6" height="11.6" stroke="#90ecec" stroke-width="1.2" fill="none" style="mix-blend-mode:multiply"/>
<rect x="952.1" y="1241.7" width="11.6" height="11.6" stroke="#90ecec" stroke-width="1.2" fill="none" style="mix-blend-mode:multiply"/>
<rect x="987.5" y="1241.7" width="11.6" height="11.6" stroke="#90ecec" stroke-width="1.2" fill="none" style="mix-blend-mode:multiply"/>
<rect x="786.7" y="1464.5" width="197.1" height="207.0" fill="#fff" stroke="#868686" stroke-width="1.9"/>
<path d="M798.3 1492.1H857.2" stroke="#eeb0b6" stroke-width="2.4"/>
<path d="M824.7 1489.1L830.7 1495.1M824.7 1495.1L830.7 1489.1" stroke="#e07888" stroke-width="1.2" fill="none"/>
<text transform="translate(864.00 1508.30) scale(1.08 1)" text-anchor="start" font-family="'Liberation Sans', Arial, Helvetica, sans-serif" font-size="44" font-weight="normal" fill="#000">rgb</text>
<path d="M798.3 1542.7H857.2" stroke="#b0ecb0" stroke-width="2.4"/>
<circle cx="827.7" cy="1542.7" r="6.0" stroke="#8ee08e" stroke-width="1.2" fill="#e4f8e4"/>
<text transform="translate(864.00 1558.90) scale(1.08 1)" text-anchor="start" font-family="'Liberation Sans', Arial, Helvetica, sans-serif" font-size="44" font-weight="normal" fill="#000">ycbcr</text>
<path d="M798.3 1593.5H857.2" stroke="#b4b4f2" stroke-width="2.4"/>
<path d="M827.7 1586.2L834.8 1597.2L820.6 1597.2Z" stroke="#4848a0" stroke-width="1.3" fill="#cfcff8"/>
<text transform="translate(864.00 1609.70) scale(1.08 1)" text-anchor="start" font-family="'Liberation Sans', Arial, Helvetica, sans-serif" font-size="44" font-weight="normal" fill="#000">hsv</text>
<path d="M798.3 1642.7H857.2" stroke="#b0f2f2" stroke-width="2.4"/>
<rect x="822.2" y="1637.2" width="11.0" height="11.0" stroke="#90ecec" stroke-width="1.2" fill="#d8f8f8"/>
<text transform="translate(864.00 1658.90) scale(1.08 1)" text-anchor="start" font-family="'Liberation Sans', Arial, Helvetica, sans-serif" font-size="44" font-weight="normal" fill="#000">lab</text>
<text transform="translate(551.20 1969.30) scale(1.08 1)" text-anchor="middle" font-family="'Liberation Sans', Arial, Helvetica, sans-serif" font-size="44" font-weight="normal" fill="#000">accuracy</text>
<path d="M109.5 2002.2V2621.7H993.3" stroke="#8a8a8a" stroke-width="2" fill="none"/>
<g transform="translate(103.50 2019.10) scale(1.08 1)"><text x="-24.47" y="0" font-family="'Liberation Sans', Arial, Helvetica, sans-serif" font-size="44" fill="#000"><tspan dx="1.02">1</tspan></text><rect x="-20.87" y="-5.59" width="8.42" height="6.45" fill="#fff"/><rect x="-8.43" y="-5.59" width="7.97" height="6.45" fill="#fff"/></g>
<g transform="translate(103.50 2143.00) scale(1.08 1)"><text x="-85.64" y="0" font-family="'Liberation Sans', Arial, Helvetica, sans-serif" font-size="44" fill="#000">0.99</text></g>
<g transform="translate(103.50 2266.90) scale(1.08 1)"><text x="-85.64" y="0" font-family="'Liberation Sans', Arial, Helvetica, sans-serif" font-size="44" fill="#000">0.98</text></g>
<g transform="translate(103.50 2390.80) scale(1.08 1)"><text x="-85.64" y="0" font-family="'Liberation Sans', Arial, Helvetica, sans-serif" font-size="44" fill="#000">0.97</text></g>
<g transform="translate(103.50 2514.70) scale(1.08 1)"><text x="-85.64" y="0" font-family="'Liberation Sans', Arial, Helvetica, sans-serif" font-size="44" fill="#000">0.96</text></g>
<g transform="translate(103.50 2638.60) scale(1.08 1)"><text x="-85.64" y="0" font-family="'Liberation Sans', Arial, Helvetica, sans-serif" font-size="44" fill="#000">0.95</text></g>
<g transform="translate(109.50 2666.30) scale(1.08 1)"><text x="-12.24" y="0" font-family="'Liberation Sans', Arial, Helvetica, sans-serif" font-size="44" fill="#000">0</text></g>
<g transform="translate(286.26 2666.30) scale(1.08 1)"><text x="-12.24" y="0" font-family="'Liberation Sans', Arial, Helvetica, sans-serif" font-size="44" fill="#000">5</text></g>
<g transform="translate(463.02 2666.30) scale(1.08 1)"><text x="-24.47" y="0" font-family="'Liberation Sans', Arial, Helvetica, sans-serif" font-size="44" fill="#000"><tspan dx="1.02">1</tspan><tspan dx="-1.02">0</tspan></text><rect x="-20.87" y="-5.59" width="8.42" height="6.45" fill="#fff"/><rect x="-8.43" y="-5.59" width="7.97" height="6.45" fill="#fff"/></g>
<g transform="translate(639.78 2666.30) scale(1.08 1)"><text x="-24.47" y="0" font-family="'Liberation Sans', Arial, Helvetica, sans-serif" font-size="44" fill="#000"><tspan dx="1.02">1</tspan><tspan dx="-1.02">5</tspan></text><rect x="-20.87" y="-5.59" width="8.42" height="6.45" fill="#fff"/><rect x="-8.43" y="-5.59" width="7.97" height="6.45" fill="#fff"/></g>
<g transform="translate(816.54 2666.30) scale(1.08 1)"><text x="-24.47" y="0" font-family="'Liberation Sans', Arial, Helvetica, sans-serif" font-size="44" fill="#000">20</text></g>
<g transform="translate(993.30 2666.30) scale(1.08 1)"><text x="-24.47" y="0" font-family="'Liberation Sans', Arial, Helvetica, sans-serif" font-size="44" fill="#000">25</text></g>
<path d="M109.5 2002.2h8.5M109.5 2126.1h8.5M109.5 2250.0h8.5M109.5 2373.9h8.5M109.5 2497.8h8.5M286.3 2621.7v-9M463.0 2621.7v-9M639.8 2621.7v-9M816.5 2621.7v-9M993.3 2621.7v-9" stroke="#8a8a8a" stroke-width="2" fill="none"/>
<text transform="translate(551.20 2709.10) scale(1.08 1)" text-anchor="middle" font-family="'Liberation Sans', Arial, Helvetica, sans-serif" font-size="44" font-weight="normal" fill="#000">Threshold</text>
<polyline points="144.9,2388.3 180.2,2324.0 215.6,2289.5 250.9,2259.0 286.3,2238.0 321.6,2224.3 357.0,2211.8 392.3,2201.5 427.7,2195.4 463.0,2191.3 498.4,2186.9 533.7,2183.8 569.1,2182.5 604.4,2181.8 639.8,2180.4 675.1,2178.4 710.5,2176.6 745.8,2176.6 781.2,2176.6 816.5,2176.6 851.9,2176.6 887.2,2176.6 922.6,2176.6 957.9,2176.6 993.3,2176.6" stroke="#ee9aa2" stroke-width="1.6" fill="none" style="mix-blend-mode:multiply"/>
<polyline points="144.9,2388.3 180.2,2327.5 215.6,2293.0 250.9,2262.5 286.3,2241.5 321.6,2227.8 357.0,2215.3 392.3,2205.0 427.7,2198.9 463.0,2194.8 498.4,2190.4 533.7,2187.3 569.1,2186.0 604.4,2185.3 639.8,2183.9 675.1,2181.9 710.5,2180.1 745.8,2180.1 781.2,2180.1 816.5,2180.1 851.9,2180.1 887.2,2180.1 922.6,2180.1 957.9,2180.1 993.3,2180.1" stroke="#96e896" stroke-width="1.6" fill="none" style="mix-blend-mode:multiply"/>
<polyline points="144.9,2387.3 180.2,2323.0 215.6,2288.5 250.9,2258.0 286.3,2237.0 321.6,2223.3 357.0,2210.8 392.3,2200.5 427.7,2194.4 463.0,2190.3 498.4,2185.9 533.7,2182.8 569.1,2181.5 604.4,2180.8 639.8,2179.4 675.1,2177.4 710.5,2175.6 745.8,2175.6 781.2,2175.6 816.5,2175.6 851.9,2175.6 887.2,2175.6 922.6,2175.6 957.9,2175.6 993.3,2175.6" stroke="#9a9aee" stroke-width="1.6" fill="none" style="mix-blend-mode:multiply"/>
<polyline points="144.9,2388.8 180.2,2328.5 215.6,2294.0 250.9,2263.5 286.3,2242.5 321.6,2228.8 357.0,2216.3 392.3,2206.0 427.7,2199.9 463.0,2195.8 498.4,2191.4 533.7,2188.3 569.1,2187.0 604.4,2186.3 639.8,2184.9 675.1,2182.9 710.5,2181.1 745.8,2181.1 781.2,2181.1 816.5,2181.1 851.9,2181.1 887.2,2181.1 922.6,2181.1 957.9,2181.1 993.3,2181.1" stroke="#98eeee" stroke-width="1.6" fill="none" style="mix-blend-mode:multiply"/>
<path d="M141.9 2385.3L147.9 2391.3M141.9 2391.3L147.9 2385.3" stroke="#e07888" stroke-width="1.2" fill="none" style="mix-blend-mode:multiply"/>
<path d="M177.2 2321.0L183.2 2327.0M177.2 2327.0L183.2 2321.0" stroke="#e07888" stroke-width="1.2" fill="none" style="mix-blend-mode:multiply"/>
<path d="M212.6 2286.5L218.6 2292.5M212.6 2292.5L218.6 2286.5" stroke="#e07888" stroke-width="1.2" fill="none" style="mix-blend-mode:multiply"/>
<path d="M247.9 2256.0L253.9 2262.0M247.9 2262.0L253.9 2256.0" stroke="#e07888" stroke-width="1.2" fill="none" style="mix-blend-mode:multiply"/>
<path d="M283.3 2235.0L289.3 2241.0M283.3 2241.0L289.3 2235.0" stroke="#e07888" stroke-width="1.2" fill="none" style="mix-blend-mode:multiply"/>
<path d="M318.6 2221.3L324.6 2227.3M318.6 2227.3L324.6 2221.3" stroke="#e07888" stroke-width="1.2" fill="none" style="mix-blend-mode:multiply"/>
<path d="M354.0 2208.8L360.0 2214.8M354.0 2214.8L360.0 2208.8" stroke="#e07888" stroke-width="1.2" fill="none" style="mix-blend-mode:multiply"/>
<path d="M389.3 2198.5L395.3 2204.5M389.3 2204.5L395.3 2198.5" stroke="#e07888" stroke-width="1.2" fill="none" style="mix-blend-mode:multiply"/>
<path d="M424.7 2192.4L430.7 2198.4M424.7 2198.4L430.7 2192.4" stroke="#e07888" stroke-width="1.2" fill="none" style="mix-blend-mode:multiply"/>
<path d="M460.0 2188.3L466.0 2194.3M460.0 2194.3L466.0 2188.3" stroke="#e07888" stroke-width="1.2" fill="none" style="mix-blend-mode:multiply"/>
<path d="M495.4 2183.9L501.4 2189.9M495.4 2189.9L501.4 2183.9" stroke="#e07888" stroke-width="1.2" fill="none" style="mix-blend-mode:multiply"/>
<path d="M530.7 2180.8L536.7 2186.8M530.7 2186.8L536.7 2180.8" stroke="#e07888" stroke-width="1.2" fill="none" style="mix-blend-mode:multiply"/>
<path d="M566.1 2179.5L572.1 2185.5M566.1 2185.5L572.1 2179.5" stroke="#e07888" stroke-width="1.2" fill="none" style="mix-blend-mode:multiply"/>
<path d="M601.4 2178.8L607.4 2184.8M601.4 2184.8L607.4 2178.8" stroke="#e07888" stroke-width="1.2" fill="none" style="mix-blend-mode:multiply"/>
<path d="M636.8 2177.4L642.8 2183.4M636.8 2183.4L642.8 2177.4" stroke="#e07888" stroke-width="1.2" fill="none" style="mix-blend-mode:multiply"/>
<path d="M672.1 2175.4L678.1 2181.4M672.1 2181.4L678.1 2175.4" stroke="#e07888" stroke-width="1.2" fill="none" style="mix-blend-mode:multiply"/>
<path d="M707.5 2173.6L713.5 2179.6M707.5 2179.6L713.5 2173.6" stroke="#e07888" stroke-width="1.2" fill="none" style="mix-blend-mode:multiply"/>
<path d="M742.8 2173.6L748.8 2179.6M742.8 2179.6L748.8 2173.6" stroke="#e07888" stroke-width="1.2" fill="none" style="mix-blend-mode:multiply"/>
<path d="M778.2 2173.6L784.2 2179.6M778.2 2179.6L784.2 2173.6" stroke="#e07888" stroke-width="1.2" fill="none" style="mix-blend-mode:multiply"/>
<path d="M813.5 2173.6L819.5 2179.6M813.5 2179.6L819.5 2173.6" stroke="#e07888" stroke-width="1.2" fill="none" style="mix-blend-mode:multiply"/>
<path d="M848.9 2173.6L854.9 2179.6M848.9 2179.6L854.9 2173.6" stroke="#e07888" stroke-width="1.2" fill="none" style="mix-blend-mode:multiply"/>
<path d="M884.2 2173.6L890.2 2179.6M884.2 2179.6L890.2 2173.6" stroke="#e07888" stroke-width="1.2" fill="none" style="mix-blend-mode:multiply"/>
<path d="M919.6 2173.6L925.6 2179.6M919.6 2179.6L925.6 2173.6" stroke="#e07888" stroke-width="1.2" fill="none" style="mix-blend-mode:multiply"/>
<path d="M954.9 2173.6L960.9 2179.6M954.9 2179.6L960.9 2173.6" stroke="#e07888" stroke-width="1.2" fill="none" style="mix-blend-mode:multiply"/>
<path d="M990.3 2173.6L996.3 2179.6M990.3 2179.6L996.3 2173.6" stroke="#e07888" stroke-width="1.2" fill="none" style="mix-blend-mode:multiply"/>
<circle cx="144.9" cy="2388.3" r="5.8" stroke="#8ee08e" stroke-width="1.2" fill="none" style="mix-blend-mode:multiply"/>
<circle cx="180.2" cy="2327.5" r="5.8" stroke="#8ee08e" stroke-width="1.2" fill="none" style="mix-blend-mode:multiply"/>
<circle cx="215.6" cy="2293.0" r="5.8" stroke="#8ee08e" stroke-width="1.2" fill="none" style="mix-blend-mode:multiply"/>
<circle cx="250.9" cy="2262.5" r="5.8" stroke="#8ee08e" stroke-width="1.2" fill="none" style="mix-blend-mode:multiply"/>
<circle cx="286.3" cy="2241.5" r="5.8" stroke="#8ee08e" stroke-width="1.2" fill="none" style="mix-blend-mode:multiply"/>
<circle cx="321.6" cy="2227.8" r="5.8" stroke="#8ee08e" stroke-width="1.2" fill="none" style="mix-blend-mode:multiply"/>
<circle cx="357.0" cy="2215.3" r="5.8" stroke="#8ee08e" stroke-width="1.2" fill="none" style="mix-blend-mode:multiply"/>
<circle cx="392.3" cy="2205.0" r="5.8" stroke="#8ee08e" stroke-width="1.2" fill="none" style="mix-blend-mode:multiply"/>
<circle cx="427.7" cy="2198.9" r="5.8" stroke="#8ee08e" stroke-width="1.2" fill="none" style="mix-blend-mode:multiply"/>
<circle cx="463.0" cy="2194.8" r="5.8" stroke="#8ee08e" stroke-width="1.2" fill="none" style="mix-blend-mode:multiply"/>
<circle cx="498.4" cy="2190.4" r="5.8" stroke="#8ee08e" stroke-width="1.2" fill="none" style="mix-blend-mode:multiply"/>
<circle cx="533.7" cy="2187.3" r="5.8" stroke="#8ee08e" stroke-width="1.2" fill="none" style="mix-blend-mode:multiply"/>
<circle cx="569.1" cy="2186.0" r="5.8" stroke="#8ee08e" stroke-width="1.2" fill="none" style="mix-blend-mode:multiply"/>
<circle cx="604.4" cy="2185.3" r="5.8" stroke="#8ee08e" stroke-width="1.2" fill="none" style="mix-blend-mode:multiply"/>
<circle cx="639.8" cy="2183.9" r="5.8" stroke="#8ee08e" stroke-width="1.2" fill="none" style="mix-blend-mode:multiply"/>
<circle cx="675.1" cy="2181.9" r="5.8" stroke="#8ee08e" stroke-width="1.2" fill="none" style="mix-blend-mode:multiply"/>
<circle cx="710.5" cy="2180.1" r="5.8" stroke="#8ee08e" stroke-width="1.2" fill="none" style="mix-blend-mode:multiply"/>
<circle cx="745.8" cy="2180.1" r="5.8" stroke="#8ee08e" stroke-width="1.2" fill="none" style="mix-blend-mode:multiply"/>
<circle cx="781.2" cy="2180.1" r="5.8" stroke="#8ee08e" stroke-width="1.2" fill="none" style="mix-blend-mode:multiply"/>
<circle cx="816.5" cy="2180.1" r="5.8" stroke="#8ee08e" stroke-width="1.2" fill="none" style="mix-blend-mode:multiply"/>
<circle cx="851.9" cy="2180.1" r="5.8" stroke="#8ee08e" stroke-width="1.2" fill="none" style="mix-blend-mode:multiply"/>
<circle cx="887.2" cy="2180.1" r="5.8" stroke="#8ee08e" stroke-width="1.2" fill="none" style="mix-blend-mode:multiply"/>
<circle cx="922.6" cy="2180.1" r="5.8" stroke="#8ee08e" stroke-width="1.2" fill="none" style="mix-blend-mode:multiply"/>
<circle cx="957.9" cy="2180.1" r="5.8" stroke="#8ee08e" stroke-width="1.2" fill="none" style="mix-blend-mode:multiply"/>
<circle cx="993.3" cy="2180.1" r="5.8" stroke="#8ee08e" stroke-width="1.2" fill="none" style="mix-blend-mode:multiply"/>
<path d="M144.9 2380.6L151.1 2390.6L138.7 2390.6Z" stroke="#4848a0" stroke-width="1.3" fill="#e6e2f8" style="mix-blend-mode:multiply"/>
<path d="M180.2 2316.3L186.4 2326.3L174.0 2326.3Z" stroke="#4848a0" stroke-width="1.3" fill="#e6e2f8" style="mix-blend-mode:multiply"/>
<path d="M215.6 2281.8L221.8 2291.8L209.4 2291.8Z" stroke="#4848a0" stroke-width="1.3" fill="#e6e2f8" style="mix-blend-mode:multiply"/>
<path d="M250.9 2251.3L257.1 2261.3L244.7 2261.3Z" stroke="#4848a0" stroke-width="1.3" fill="#e6e2f8" style="mix-blend-mode:multiply"/>
<path d="M286.3 2230.3L292.5 2240.3L280.1 2240.3Z" stroke="#4848a0" stroke-width="1.3" fill="#e6e2f8" style="mix-blend-mode:multiply"/>
<path d="M321.6 2216.6L327.8 2226.6L315.4 2226.6Z" stroke="#4848a0" stroke-width="1.3" fill="#e6e2f8" style="mix-blend-mode:multiply"/>
<path d="M357.0 2204.1L363.2 2214.1L350.8 2214.1Z" stroke="#4848a0" stroke-width="1.3" fill="#e6e2f8" style="mix-blend-mode:multiply"/>
<path d="M392.3 2193.8L398.5 2203.8L386.1 2203.8Z" stroke="#4848a0" stroke-width="1.3" fill="#e6e2f8" style="mix-blend-mode:multiply"/>
<path d="M427.7 2187.7L433.9 2197.7L421.5 2197.7Z" stroke="#4848a0" stroke-width="1.3" fill="#e6e2f8" style="mix-blend-mode:multiply"/>
<path d="M463.0 2183.6L469.2 2193.6L456.8 2193.6Z" stroke="#4848a0" stroke-width="1.3" fill="#e6e2f8" style="mix-blend-mode:multiply"/>
<path d="M498.4 2179.2L504.6 2189.2L492.2 2189.2Z" stroke="#4848a0" stroke-width="1.3" fill="#e6e2f8" style="mix-blend-mode:multiply"/>
<path d="M533.7 2176.1L539.9 2186.1L527.5 2186.1Z" stroke="#4848a0" stroke-width="1.3" fill="#e6e2f8" style="mix-blend-mode:multiply"/>
<path d="M569.1 2174.8L575.3 2184.8L562.9 2184.8Z" stroke="#4848a0" stroke-width="1.3" fill="#e6e2f8" style="mix-blend-mode:multiply"/>
<path d="M604.4 2174.1L610.6 2184.1L598.2 2184.1Z" stroke="#4848a0" stroke-width="1.3" fill="#e6e2f8" style="mix-blend-mode:multiply"/>
<path d="M639.8 2172.7L646.0 2182.7L633.6 2182.7Z" stroke="#4848a0" stroke-width="1.3" fill="#e6e2f8" style="mix-blend-mode:multiply"/>
<path d="M675.1 2170.7L681.3 2180.7L668.9 2180.7Z" stroke="#4848a0" stroke-width="1.3" fill="#e6e2f8" style="mix-blend-mode:multiply"/>
<path d="M710.5 2168.9L716.7 2178.9L704.3 2178.9Z" stroke="#4848a0" stroke-width="1.3" fill="#e6e2f8" style="mix-blend-mode:multiply"/>
<path d="M745.8 2168.9L752.0 2178.9L739.6 2178.9Z" stroke="#4848a0" stroke-width="1.3" fill="#e6e2f8" style="mix-blend-mode:multiply"/>
<path d="M781.2 2168.9L787.4 2178.9L775.0 2178.9Z" stroke="#4848a0" stroke-width="1.3" fill="#e6e2f8" style="mix-blend-mode:multiply"/>
<path d="M816.5 2168.9L822.7 2178.9L810.3 2178.9Z" stroke="#4848a0" stroke-width="1.3" fill="#e6e2f8" style="mix-blend-mode:multiply"/>
<path d="M851.9 2168.9L858.1 2178.9L845.7 2178.9Z" stroke="#4848a0" stroke-width="1.3" fill="#e6e2f8" style="mix-blend-mode:multiply"/>
<path d="M887.2 2168.9L893.4 2178.9L881.0 2178.9Z" stroke="#4848a0" stroke-width="1.3" fill="#e6e2f8" style="mix-blend-mode:multiply"/>
<path d="M922.6 2168.9L928.8 2178.9L916.4 2178.9Z" stroke="#4848a0" stroke-width="1.3" fill="#e6e2f8" style="mix-blend-mode:multiply"/>
<path d="M957.9 2168.9L964.1 2178.9L951.7 2178.9Z" stroke="#4848a0" stroke-width="1.3" fill="#e6e2f8" style="mix-blend-mode:multiply"/>
<path d="M993.3 2168.9L999.5 2178.9L987.1 2178.9Z" stroke="#4848a0" stroke-width="1.3" fill="#e6e2f8" style="mix-blend-mode:multiply"/>
<rect x="139.1" y="2383.0" width="11.6" height="11.6" stroke="#90ecec" stroke-width="1.2" fill="none" style="mix-blend-mode:multiply"/>
<rect x="174.4" y="2322.7" width="11.6" height="11.6" stroke="#90ecec" stroke-width="1.2" fill="none" style="mix-blend-mode:multiply"/>
<rect x="209.8" y="2288.2" width="11.6" height="11.6" stroke="#90ecec" stroke-width="1.2" fill="none" style="mix-blend-mode:multiply"/>
<rect x="245.1" y="2257.7" width="11.6" height="11.6" stroke="#90ecec" stroke-width="1.2" fill="none" style="mix-blend-mode:multiply"/>
<rect x="280.5" y="2236.7" width="11.6" height="11.6" stroke="#90ecec" stroke-width="1.2" fill="none" style="mix-blend-mode:multiply"/>
<rect x="315.8" y="2223.0" width="11.6" height="11.6" stroke="#90ecec" stroke-width="1.2" fill="none" style="mix-blend-mode:multiply"/>
<rect x="351.2" y="2210.5" width="11.6" height="11.6" stroke="#90ecec" stroke-width="1.2" fill="none" style="mix-blend-mode:multiply"/>
<rect x="386.5" y="2200.2" width="11.6" height="11.6" stroke="#90ecec" stroke-width="1.2" fill="none" style="mix-blend-mode:multiply"/>
<rect x="421.9" y="2194.1" width="11.6" height="11.6" stroke="#90ecec" stroke-width="1.2" fill="none" style="mix-blend-mode:multiply"/>
<rect x="457.2" y="2190.0" width="11.6" height="11.6" stroke="#90ecec" stroke-width="1.2" fill="none" style="mix-blend-mode:multiply"/>
<rect x="492.6" y="2185.6" width="11.6" height="11.6" stroke="#90ecec" stroke-width="1.2" fill="none" style="mix-blend-mode:multiply"/>
<rect x="527.9" y="2182.5" width="11.6" height="11.6" stroke="#90ecec" stroke-width="1.2" fill="none" style="mix-blend-mode:multiply"/>
<rect x="563.3" y="2181.2" width="11.6" height="11.6" stroke="#90ecec" stroke-width="1.2" fill="none" style="mix-blend-mode:multiply"/>
<rect x="598.6" y="2180.5" width="11.6" height="11.6" stroke="#90ecec" stroke-width="1.2" fill="none" style="mix-blend-mode:multiply"/>
<rect x="634.0" y="2179.1" width="11.6" height="11.6" stroke="#90ecec" stroke-width="1.2" fill="none" style="mix-blend-mode:multiply"/>
<rect x="669.3" y="2177.1" width="11.6" height="11.6" stroke="#90ecec" stroke-width="1.2" fill="none" style="mix-blend-mode:multiply"/>
<rect x="704.7" y="2175.3" width="11.6" height="11.6" stroke="#90ecec" stroke-width="1.2" fill="none" style="mix-blend-mode:multiply"/>
<rect x="740.0" y="2175.3" width="11.6" height="11.6" stroke="#90ecec" stroke-width="1.2" fill="none" style="mix-blend-mode:multiply"/>
<rect x="775.4" y="2175.3" width="11.6" height="11.6" stroke="#90ecec" stroke-width="1.2" fill="none" style="mix-blend-mode:multiply"/>
<rect x="810.7" y="2175.3" width="11.6" height="11.6" stroke="#90ecec" stroke-width="1.2" fill="none" style="mix-blend-mode:multiply"/>
<rect x="846.1" y="2175.3" width="11.6" height="11.6" stroke="#90ecec" stroke-width="1.2" fill="none" style="mix-blend-mode:multiply"/>
<rect x="881.4" y="2175.3" width="11.6" height="11.6" stroke="#90ecec" stroke-width="1.2" fill="none" style="mix-blend-mode:multiply"/>
<rect x="916.8" y="2175.3" width="11.6" height="11.6" stroke="#90ecec" stroke-width="1.2" fill="none" style="mix-blend-mode:multiply"/>
<rect x="952.1" y="2175.3" width="11.6" height="11.6" stroke="#90ecec" stroke-width="1.2" fill="none" style="mix-blend-mode:multiply"/>
<rect x="987.5" y="2175.3" width="11.6" height="11.6" stroke="#90ecec" stroke-width="1.2" fill="none" style="mix-blend-mode:multiply"/>
<rect x="786.7" y="2405.2" width="197.1" height="207.0" fill="#fff" stroke="#868686" stroke-width="1.9"/>
<path d="M798.3 2432.8H857.2" stroke="#eeb0b6" stroke-width="2.4"/>
<path d="M824.7 2429.8L830.7 2435.8M824.7 2435.8L830.7 2429.8" stroke="#e07888" stroke-width="1.2" fill="none"/>
<text transform="translate(864.00 2449.00) scale(1.08 1)" text-anchor="start" font-family="'Liberation Sans', Arial, Helvetica, sans-serif" font-size="44" font-weight="normal" fill="#000">rgb</text>
<path d="M798.3 2483.4H857.2" stroke="#b0ecb0" stroke-width="2.4"/>
<circle cx="827.7" cy="2483.4" r="6.0" stroke="#8ee08e" stroke-width="1.2" fill="#e4f8e4"/>
<text transform="translate(864.00 2499.60) scale(1.08 1)" text-anchor="start" font-family="'Liberation Sans', Arial, Helvetica, sans-serif" font-size="44" font-weight="normal" fill="#000">ycbcr</text>
<path d="M798.3 2534.2H857.2" stroke="#b4b4f2" stroke-width="2.4"/>
<path d="M827.7 2526.9L834.8 2537.9L820.6 2537.9Z" stroke="#4848a0" stroke-width="1.3" fill="#cfcff8"/>
<text transform="translate(864.00 2550.40) scale(1.08 1)" text-anchor="start" font-family="'Liberation Sans', Arial, Helvetica, sans-serif" font-size="44" font-weight="normal" fill="#000">hsv</text>
<path d="M798.3 2583.4H857.2" stroke="#b0f2f2" stroke-width="2.4"/>
<rect x="822.2" y="2577.9" width="11.0" height="11.0" stroke="#90ecec" stroke-width="1.2" fill="#d8f8f8"/>
<text transform="translate(864.00 2599.60) scale(1.08 1)" text-anchor="start" font-family="'Liberation Sans', Arial, Helvetica, sans-serif" font-size="44" font-weight="normal" fill="#000">lab</text>
<text x="527" y="912.0" text-anchor="middle" font-family="'Liberation Serif', 'Times New Roman', serif" font-size="64" fill="#000">(<tspan font-weight="bold">a</tspan>)</text>
<text x="527" y="1852.7" text-anchor="middle" font-family="'Liberation Serif', 'Times New Roman', serif" font-size="64" fill="#000">(<tspan font-weight="bold">b</tspan>)</text>
<text x="527" y="2793.7" text-anchor="middle" font-family="'Liberation Serif', 'Times New Roman', serif" font-size="64" fill="#000">(<tspan font-weight="bold">c</tspan>)</text>
</g>
</svg>
</body></html>
